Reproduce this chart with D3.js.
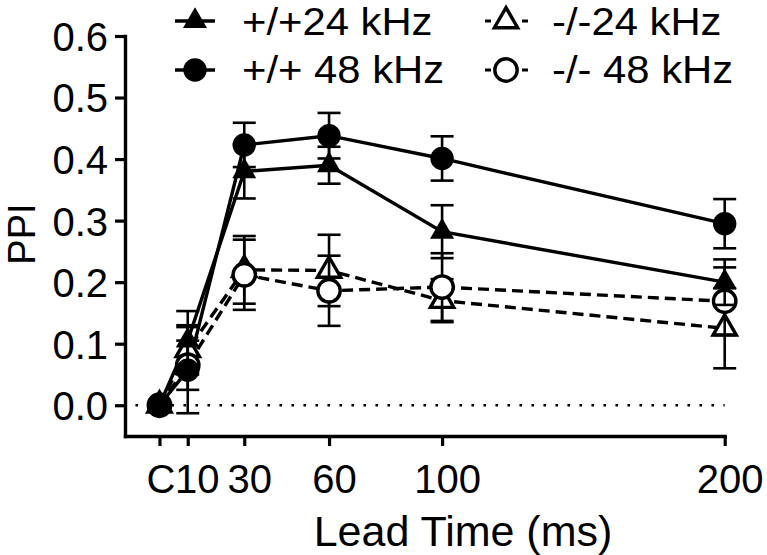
<!DOCTYPE html>
<html><head><meta charset="utf-8">
<script src="https://cdn.jsdelivr.net/npm/d3@7"></script>
<style>
body{margin:0;background:#fff}
svg{display:block}
text{font-family:"Liberation Sans",Arial,Helvetica,sans-serif;fill:#000}
</style>
</head><body>
<svg id="chart" width="767" height="555"></svg>
<script>
// ---- data ----
const leadTimes   = [0, 10, 30, 60, 100, 200];
const xTickLabels = ["C", "10", "30", "60", "100", "200"];
const yTicks      = [0, 0.1, 0.2, 0.3, 0.4, 0.5, 0.6];

const wt24     = [0, 0.105, 0.380, 0.390, 0.282, 0.200];
const wt24Err  = [0, 0.048, 0.044, 0.030, 0.043, 0.037];
const wt48     = [0, 0.057, 0.423, 0.438, 0.401, 0.295];
const wt48Err  = [0, 0.070, 0.036, 0.037, 0.036, 0.040];
const ko24     = [0, 0.090, 0.220, 0.219, 0.170, 0.125];
const ko24Err  = [0, 0.040, 0.055, 0.058, 0.035, 0.065];
const ko48     = [0, 0.065, 0.212, 0.186, 0.192, 0.169];
const ko48Err  = [0, 0.040, 0.057, 0.057, 0.055, 0.055];

const seriesNames = ["+/+24 kHz", "+/+ 48 kHz", "-/-24 kHz", "-/- 48 kHz"];

// ---- setup ----
const svg = d3.select("#chart");
const x = d3.scaleLinear().domain([-12.2, 200]).range([125, 724.7]);
const y = d3.scaleLinear().domain([-0.05, 0.6]).range([436, 36]);

const series = [
  {name: seriesNames[2], vals: ko24, err: ko24Err, shape: "tri",    filled: false, dashed: true},
  {name: seriesNames[3], vals: ko48, err: ko48Err, shape: "circle", filled: false, dashed: true},
  {name: seriesNames[0], vals: wt24, err: wt24Err, shape: "tri",    filled: true,  dashed: false},
  {name: seriesNames[1], vals: wt48, err: wt48Err, shape: "circle", filled: true,  dashed: false}
];

// zero reference line (dotted)
svg.append("line")
  .attr("x1", x(-8.5)).attr("x2", x(200))
  .attr("y1", y(0)).attr("y2", y(0))
  .attr("stroke", "#000").attr("stroke-width", 2.6)
  .attr("stroke-dasharray", "2.6,9.4");

// axes
const yAxis = d3.axisLeft(y).tickValues(yTicks).tickFormat(d3.format(".1f"))
  .tickSize(10).tickSizeOuter(0).tickPadding(7);
const gy = svg.append("g").attr("transform", `translate(${x(-12.2)},0)`).call(yAxis);
gy.selectAll("text").attr("font-size", 40).attr("dy", "0.36em")
  .style("font-family", '"Liberation Sans",Arial,sans-serif');

const xLabelShift = [1, 9, 5, 5, 5, 5];
const xAxis = d3.axisBottom(x).tickValues(leadTimes).tickFormat((d, i) => xTickLabels[i])
  .tickSize(10).tickSizeOuter(0).tickPadding(5);
const gx = svg.append("g").attr("transform", `translate(0,${y(-0.05)})`).call(xAxis);
gx.selectAll("text").attr("font-size", 40).attr("dx", (d, i) => xLabelShift[i]).attr("y", 57).attr("dy", 0)
  .style("font-family", '"Liberation Sans",Arial,sans-serif');

[gx, gy].forEach(g => {
  g.select(".domain").attr("stroke-width", 3.4).attr("stroke-linecap", "square");
  g.selectAll(".tick line").attr("stroke-width", 3.2);
});

// axis titles
svg.append("text").attr("x", 463).attr("y", 546).attr("text-anchor", "middle")
  .attr("font-size", 43).text("Lead Time (ms)");
svg.append("text").attr("transform", "translate(35,234) rotate(-90)")
  .attr("text-anchor", "middle").attr("font-size", 38).text("PPI");

// lines
const line = d3.line().x((d, i) => x(leadTimes[i])).y(d => y(d));
series.forEach(s => {
  svg.append("path").datum(s.vals)
    .attr("d", line).attr("fill", "none").attr("stroke", "#000")
    .attr("stroke-width", 3.4)
    .attr("stroke-dasharray", s.dashed ? "11,6" : null);
});

const triFilled = d3.symbol().type(d3.symbolTriangle).size(250);
const triOpen   = d3.symbol().type(d3.symbolTriangle).size(235);

function drawMarker(g, s, cx, cy) {
  if (s.shape === "circle") {
    g.append("circle").attr("cx", cx).attr("cy", cy)
      .attr("r", s.filled ? 11.7 : 11.2)
      .attr("fill", s.filled ? "#000" : "#fff")
      .attr("stroke", "#000").attr("stroke-width", s.filled ? 0 : 3.4);
  } else {
    g.append("path").attr("transform", `translate(${cx},${cy})`)
      .attr("d", s.filled ? triFilled() : triOpen())
      .attr("fill", s.filled ? "#000" : "#fff")
      .attr("stroke", "#000").attr("stroke-width", s.filled ? 0 : 3.4)
      .attr("stroke-linejoin", "miter");
  }
}

// error bars + markers per series
series.forEach(s => {
  const g = svg.append("g");
  s.vals.forEach((v, i) => {
    const e = s.err[i];
    const cx = x(leadTimes[i]);
    if (e > 0) {
      const eb = g.append("g").attr("stroke", "#000").attr("stroke-width", 2.6);
      eb.append("line").attr("x1", cx).attr("x2", cx).attr("y1", y(v - e)).attr("y2", y(v + e));
      [v - e, v + e].forEach(t => {
        eb.append("line").attr("x1", cx - 11.5).attr("x2", cx + 11.5).attr("y1", y(t)).attr("y2", y(t));
      });
    }
  });
  s.vals.forEach((v, i) => drawMarker(g, s, x(leadTimes[i]), y(v)));
});

// legend
const legendItems = [
  {s: series[2], lx: 195, ly: 21, tx: 242, ty: 35},
  {s: series[3], lx: 195, ly: 70, tx: 242, ty: 83},
  {s: series[0], lx: 506, ly: 21, tx: 552, ty: 35},
  {s: series[1], lx: 506, ly: 70, tx: 552, ty: 83}
];
legendItems.forEach(it => {
  const g = svg.append("g");
  if (it.s.dashed) {
    g.append("line").attr("x1", it.lx - 21).attr("x2", it.lx + 22)
      .attr("y1", it.ly).attr("y2", it.ly)
      .attr("stroke", "#000").attr("stroke-width", 3.2)
      .attr("stroke-dasharray", "6,31,6");
  } else {
    g.append("line").attr("x1", it.lx - 20).attr("x2", it.lx + 20)
      .attr("y1", it.ly).attr("y2", it.ly)
      .attr("stroke", "#000").attr("stroke-width", 3.4);
  }
  drawMarker(g, it.s, it.lx, it.ly);
  g.append("text")
    .attr("transform", `translate(${it.tx},${it.ty}) scale(1.1,1)`)
    .attr("font-size", 38).text(it.s.name);
});
</script>
</body></html>
